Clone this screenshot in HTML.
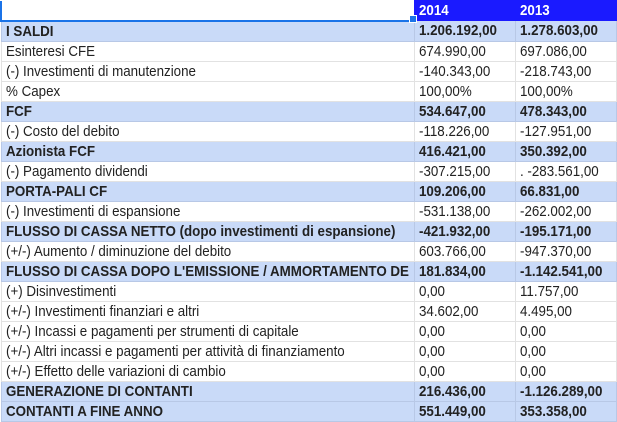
<!DOCTYPE html>
<html><head><style>
body{margin:0;background:#fff;width:617px;height:422px;overflow:hidden;font-family:"Liberation Sans",sans-serif;}
table{border-collapse:collapse;table-layout:fixed;position:absolute;left:0;top:0;width:615px;}
td{height:19px;padding:0 0 0 4px;border:1px solid #e2e2e2;font-size:15px;color:#222;white-space:nowrap;overflow:hidden;line-height:19px;}
td span{display:inline-block;transform:scaleX(0.89);transform-origin:0 50%;}
tr.b td{background:#c9daf8;font-weight:bold;border-color:#b8c8e6;}
tr.h td.y{background:#1a1aff;color:#fff;font-weight:bold;border-color:#1a1aff;}
</style></head><body>
<table>
<colgroup><col style="width:413px"><col style="width:101px"><col style="width:101px"></colgroup>
<tr class="h"><td style="border:2px solid #1a73e8;border-top:none;border-right:none;height:17px"></td><td class="y"><span>2014</span></td><td class="y"><span>2013</span></td></tr>
<tr class="b"><td><span>I SALDI</span></td><td><span>1.206.192,00</span></td><td><span>1.278.603,00</span></td></tr>
<tr><td><span>Esinteresi CFE</span></td><td><span>674.990,00</span></td><td><span>697.086,00</span></td></tr>
<tr><td><span>(-) Investimenti di manutenzione</span></td><td><span>-140.343,00</span></td><td><span>-218.743,00</span></td></tr>
<tr><td><span>% Capex</span></td><td><span>100,00%</span></td><td><span>100,00%</span></td></tr>
<tr class="b"><td><span>FCF</span></td><td><span>534.647,00</span></td><td><span>478.343,00</span></td></tr>
<tr><td><span>(-) Costo del debito</span></td><td><span>-118.226,00</span></td><td><span>-127.951,00</span></td></tr>
<tr class="b"><td><span>Azionista FCF</span></td><td><span>416.421,00</span></td><td><span>350.392,00</span></td></tr>
<tr><td><span>(-) Pagamento dividendi</span></td><td><span>-307.215,00</span></td><td><span>. -283.561,00</span></td></tr>
<tr class="b"><td><span>PORTA-PALI CF</span></td><td><span>109.206,00</span></td><td><span>66.831,00</span></td></tr>
<tr><td><span>(-) Investimenti di espansione</span></td><td><span>-531.138,00</span></td><td><span>-262.002,00</span></td></tr>
<tr class="b"><td><span>FLUSSO DI CASSA NETTO (dopo investimenti di espansione)</span></td><td><span>-421.932,00</span></td><td><span>-195.171,00</span></td></tr>
<tr><td><span>(+/-) Aumento / diminuzione del debito</span></td><td><span>603.766,00</span></td><td><span>-947.370,00</span></td></tr>
<tr class="b"><td><span>FLUSSO DI CASSA DOPO L'EMISSIONE / AMMORTAMENTO DE</span></td><td><span>181.834,00</span></td><td><span>-1.142.541,00</span></td></tr>
<tr><td><span>(+) Disinvestimenti</span></td><td><span>0,00</span></td><td><span>11.757,00</span></td></tr>
<tr><td><span>(+/-) Investimenti finanziari e altri</span></td><td><span>34.602,00</span></td><td><span>4.495,00</span></td></tr>
<tr><td><span>(+/-) Incassi e pagamenti per strumenti di capitale</span></td><td><span>0,00</span></td><td><span>0,00</span></td></tr>
<tr><td><span>(+/-) Altri incassi e pagamenti per attività di finanziamento</span></td><td><span>0,00</span></td><td><span>0,00</span></td></tr>
<tr><td><span>(+/-) Effetto delle variazioni di cambio</span></td><td><span>0,00</span></td><td><span>0,00</span></td></tr>
<tr class="b"><td><span>GENERAZIONE DI CONTANTI</span></td><td><span>216.436,00</span></td><td><span>-1.126.289,00</span></td></tr>
<tr class="b"><td><span>CONTANTI A FINE ANNO</span></td><td><span>551.449,00</span></td><td><span>353.358,00</span></td></tr>
</table>
<div style="position:absolute;left:409px;top:15px;width:6px;height:6px;background:#1a73e8;border:1px solid #fff"></div>
</body></html>
